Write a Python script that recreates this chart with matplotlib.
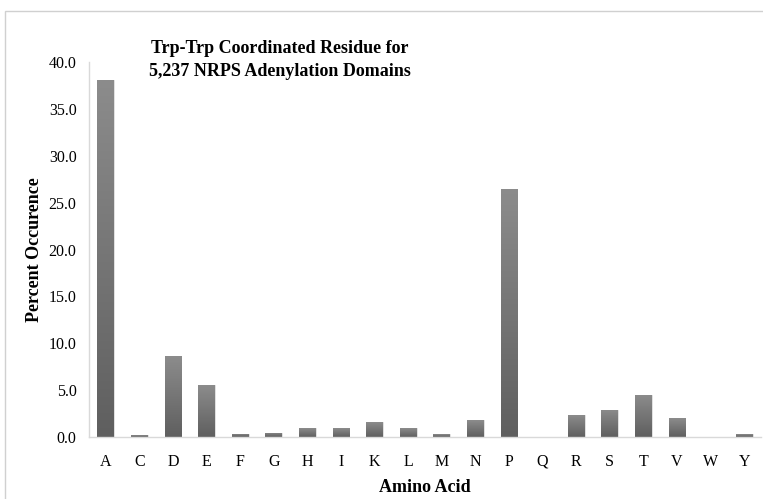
import numpy as np
import matplotlib
matplotlib.use("Agg")
import matplotlib.pyplot as plt
from matplotlib.patches import Rectangle
from matplotlib.colors import LinearSegmentedColormap

categories = ["A", "C", "D", "E", "F", "G", "H", "I", "K", "L",
              "M", "N", "P", "Q", "R", "S", "T", "V", "W", "Y"]
percent = [38.1, 0.2, 8.6, 5.5, 0.35, 0.45, 0.95, 0.92, 1.6, 0.92,
           0.28, 1.8, 26.5, 0.0, 2.3, 2.9, 4.5, 2.0, 0.0, 0.3]
yticks = [0, 5, 10, 15, 20, 25, 30, 35, 40]

plt.rcParams['font.family'] = ['Liberation Serif', 'DejaVu Serif']

fig = plt.figure(figsize=(7.63, 4.99), dpi=100)
ax = fig.add_axes([89/763, 1-437/499, 672/763, 375/499])

# figure frame
fig.patches.append(Rectangle((5/763, -0.01), 1.0, 1-11/499+0.01, transform=fig.transFigure,
                             fill=False, edgecolor='#d0d0d0', linewidth=1.0))

x = np.arange(len(categories))
width = 0.5
cmap = LinearSegmentedColormap.from_list('g', ['#5f5f5f', '#8c8c8c'])
grad = np.linspace(0, 1, 256).reshape(-1, 1)
bars = ax.bar(x, percent, width=width, color='#737373', edgecolor='#e8e8e8', linewidth=0.6, zorder=2)
for b in bars:
    h = b.get_height()
    if h <= 0:
        continue
    x0 = b.get_x()
    im = ax.imshow(grad, cmap=cmap, origin='lower', aspect='auto',
                   extent=(x0, x0 + b.get_width(), 0, h), zorder=2.5, interpolation='bilinear')
    im.set_clip_path(b)

ax.set_xlim(-0.5, len(categories) - 0.5)
ax.set_ylim(0, 40)
ax.set_yticks(yticks)
ax.set_yticklabels([f"{v:.1f}" for v in yticks])
ax.set_xticks(x)
ax.set_xticklabels(categories)
ax.tick_params(axis='both', length=0, labelsize=11.5, colors='black')
ax.tick_params(axis='x', pad=12)
ax.tick_params(axis='y', pad=9)

for s in ['top', 'right']:
    ax.spines[s].set_visible(False)
for s in ['left', 'bottom']:
    ax.spines[s].set_color('#d9d9d9')
    ax.spines[s].set_linewidth(1.0)

ax.set_ylabel("Percent Occurence", fontsize=13, fontweight='bold', labelpad=0)
ax.yaxis.set_label_coords(-54/672, 0.5)
ax.set_xlabel("Amino Acid", fontsize=13, fontweight='bold')
ax.xaxis.set_label_coords(0.5, -(487-437)/375)
ax.xaxis.label.set_va('center')
ax.yaxis.label.set_va('center')

fig.text(280/763, 1-60/499, "Trp-Trp Coordinated Residue for\n5,237 NRPS Adenylation Domains",
         ha='center', va='center', fontsize=13, fontweight='bold', linespacing=1.45,
         transform=fig.transFigure)

fig.savefig("out.png", dpi=100)
